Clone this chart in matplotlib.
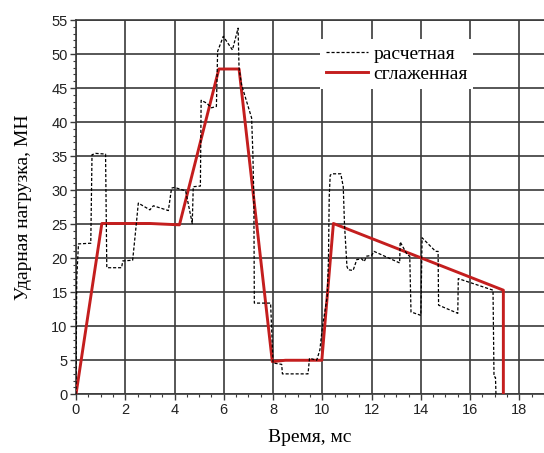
import matplotlib
matplotlib.use("Agg")
import matplotlib.pyplot as plt
from matplotlib.ticker import MultipleLocator

# calculated load (dashed), time in ms, load in MN
t_calc = [0.0, 0.03, 0.1, 0.6, 0.65, 0.8, 1.2, 1.25, 1.85, 1.9, 2.3, 2.42, 2.53,
          3.0, 3.14, 3.75, 3.88, 4.0, 4.45, 4.72, 4.76, 5.05, 5.08, 5.3, 5.5, 5.7,
          5.75, 5.98, 6.35, 6.58, 6.62, 6.72, 7.13, 7.18, 7.22, 7.24, 7.9, 8.0,
          8.35, 8.38, 9.42, 9.48, 9.77, 9.9, 10.0, 10.2, 10.25, 10.28, 10.32,
          10.4, 10.75, 10.85, 10.9, 11.0, 11.05, 11.25, 11.4, 11.6, 11.7, 11.8,
          12.0, 12.1, 13.14, 13.16, 13.45, 13.55, 13.6, 14.0, 14.05, 14.6, 14.7,
          14.72, 15.5, 15.52, 16.93, 16.97, 17.03, 17.05]
f_calc = [0.0, 17.0, 22.1, 22.2, 35.2, 35.4, 35.3, 18.6, 18.6, 19.6, 19.7, 24.0, 28.1,
          27.1, 27.7, 27.0, 30.3, 30.4, 29.9, 25.1, 30.5, 30.6, 43.2, 42.8, 42.1, 42.3,
          50.4, 52.6, 50.6, 53.8, 47.9, 45.5, 40.6, 35.4, 29.0, 13.4, 13.4, 4.6,
          4.4, 3.0, 3.0, 5.3, 5.0, 6.5, 9.8, 14.4, 20.0, 29.0, 32.2,
          32.4, 32.4, 30.5, 25.0, 18.8, 18.3, 18.2, 19.8, 19.9, 19.5, 20.3,
          20.4, 21.0, 19.3, 22.4, 20.5, 20.3, 12.1, 11.6, 23.0, 21.0, 21.0,
          13.1, 11.9, 17.0, 15.3, 2.6, 2.5, 0.0]

# smoothed load (red)
t_smooth = [0.0, 1.05, 3.0, 3.6, 4.2, 5.8, 6.62, 7.97, 8.5, 9.98, 10.45, 17.35, 17.35]
f_smooth = [0.0, 25.1, 25.1, 25.0, 24.9, 47.8, 47.8, 4.8, 5.0, 5.0, 25.1, 15.3, 0.0]

labels = ["расчетная", "сглаженная"]
xlabel = "Время, мс"
ylabel = "Ударная нагрузка, МН"

fig = plt.figure(figsize=(5.44, 4.53), dpi=100)
ax = fig.add_axes([76 / 544, 1 - 394.3 / 453, 1 - 76 / 544, (394.3 - 20) / 453])

ax.plot(t_smooth, f_smooth, color="#c41e1e", lw=2.1, label=labels[1], zorder=3)
ax.plot(t_calc, f_calc, color="black", lw=0.9, ls=(0, (2.5, 1.5)), label=labels[0], zorder=4)

ax.set_xlim(0, 19)
ax.set_ylim(0, 55)
ax.xaxis.set_major_locator(MultipleLocator(2))
ax.xaxis.set_minor_locator(MultipleLocator(0.5))
ax.yaxis.set_major_locator(MultipleLocator(5))
ax.yaxis.set_minor_locator(MultipleLocator(1))
ax.grid(True, which="major", color="#3a3a3a", lw=1.2)
ax.set_axisbelow(True)
ax.spines["right"].set_visible(False)
for s in ("left", "bottom", "top"):
    ax.spines[s].set_color("#3a3a3a")
    ax.spines[s].set_linewidth(1.2)
ax.tick_params(which="major", direction="out", length=4, width=1, color="#3a3a3a",
               labelsize=10.5, pad=2)
ax.tick_params(which="minor", direction="out", length=2.5, width=0.8, color="#3a3a3a")
for lab in ax.get_xticklabels() + ax.get_yticklabels():
    lab.set_family("Liberation Sans")
    lab.set_color("#222222")

ax.set_xlabel(xlabel, family="Liberation Serif", fontsize=14, labelpad=9)
ax.set_ylabel(ylabel, family="Liberation Serif", fontsize=14, labelpad=14)

handles, hl = ax.get_legend_handles_labels()
leg = ax.legend(handles[::-1], hl[::-1], loc="upper left", bbox_to_anchor=(0.5, 0.975),
                frameon=True, fancybox=False, edgecolor="none", facecolor="white",
                framealpha=1, handlelength=2.2, handletextpad=0.25, borderpad=0.3,
                labelspacing=0.15, prop={"family": "Liberation Serif", "size": 14})

fig.savefig("out.png", dpi=100)
